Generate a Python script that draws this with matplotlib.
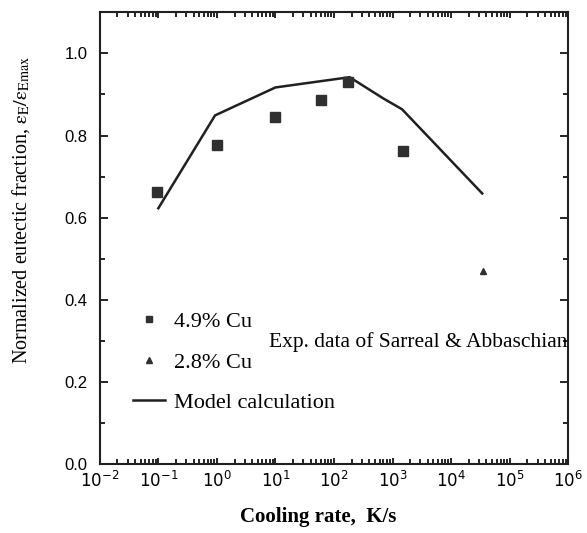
import matplotlib
matplotlib.use('Agg')
import matplotlib.pyplot as plt
import numpy as np
from matplotlib.ticker import MultipleLocator, LogLocator

plt.rcParams['mathtext.fontset'] = 'stix'

# experimental data, Sarreal & Abbaschian
rate_49 = [0.094, 1.0, 10.0, 60.0, 175.0, 1500.0]
frac_49 = [0.662, 0.776, 0.844, 0.886, 0.930, 0.762]
rate_28 = [35000.0]
frac_28 = [0.470]

# model calculation
rate_model = [0.1, 0.93, 10.0, 185.0, 700.0, 1450.0, 34000.0]
frac_model = [0.623, 0.849, 0.917, 0.942, 0.890, 0.864, 0.659]

serif = ['Liberation Serif', 'DejaVu Serif']
sans = ['Liberation Sans', 'DejaVu Sans']

fig = plt.figure(figsize=(5.87, 5.33), dpi=100)
ax = fig.add_axes([0.170, 0.129, 0.798, 0.848])

ax.plot(rate_model, frac_model, '-', color='#202020', lw=1.8, label='Model calculation')
ax.plot(rate_49, frac_49, 's', color='#303030', ms=6.5, ls='none', label='4.9% Cu')
ax.plot(rate_28, frac_28, '^', color='#303030', ms=5, ls='none', label='2.8% Cu')

ax.set_xscale('log')
ax.set_xlim(1e-2, 1e6)
ax.set_ylim(0, 1.1)
ax.set_yticks([0.0, 0.2, 0.4, 0.6, 0.8, 1.0])
ax.yaxis.set_minor_locator(MultipleLocator(0.1))
ax.xaxis.set_major_locator(LogLocator(base=10, numticks=20))
ax.xaxis.set_minor_locator(LogLocator(base=10, subs=np.arange(2, 10), numticks=100))
ax.tick_params(which='both', direction='in', top=True, right=True, width=1.2)
ax.tick_params(which='major', length=6, labelsize=12, pad=5)
ax.tick_params(which='minor', length=3.5)
ax.tick_params(axis='x', which='major', length=4)
ax.tick_params(axis='y', which='major', pad=9)
for lab in ax.get_yticklabels():
    lab.set_family(sans)
for s in ax.spines.values():
    s.set_linewidth(1.5)
    s.set_color('#202020')

ax.set_xlabel('Cooling rate,  K/s', family=serif, fontsize=15, fontweight='bold')
ax.xaxis.set_label_coords(0.466, -0.095)
ax.set_ylabel(r'Normalized eutectic fraction, $\mathrm{\varepsilon_E/\varepsilon_{Emax}}$',
              family=serif, fontsize=14.5)
ax.yaxis.set_label_coords(-0.145, 0.562)

h, l = ax.get_legend_handles_labels()
order = [1, 2, 0]
leg = ax.legend([h[i] for i in order], [l[i] for i in order], loc='upper left',
                bbox_to_anchor=(0.07, 0.338), frameon=False, handlelength=1.45,
                labelspacing=0.9, handletextpad=0.4, borderpad=0, borderaxespad=0,
                markerscale=0.75, prop={'family': serif, 'size': 16})

ax.text(0.998, 0.27, 'Exp. data of Sarreal & Abbaschian', transform=ax.transAxes,
        ha='right', va='center', family=serif, fontsize=15.5)

fig.savefig('out.png', dpi=100)
